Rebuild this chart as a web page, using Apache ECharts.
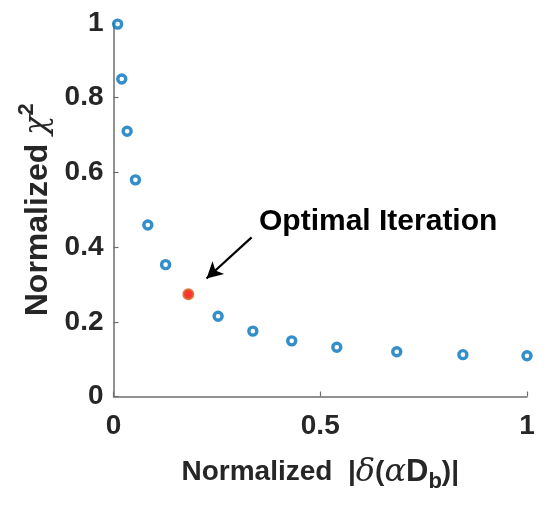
<!DOCTYPE html>
<html>
<head>
<meta charset="utf-8">
<script src="https://cdn.jsdelivr.net/npm/echarts@6/dist/echarts.min.js"></script>
<style>html,body{margin:0;padding:0;background:#fff}#c{width:551px;height:513px}</style>
</head>
<body>
<div id="c"></div>
<script>
// Data
const xVals = [0.010, 0.020, 0.033, 0.053, 0.083, 0.126, 0.253, 0.337, 0.431, 0.540, 0.685, 0.845, 1.000];
const yVals = [0.997, 0.850, 0.710, 0.580, 0.459, 0.353, 0.215, 0.175, 0.149, 0.132, 0.120, 0.112, 0.109];
const optX = [0.181];
const optY = [0.274];
const arrowFrom = [0.334, 0.426];
const arrowTo = [0.225, 0.316];
const annotationText = 'Optimal Iteration';
const xTicks = [0, 0.5, 1];
const yTicks = [0, 0.2, 0.4, 0.6, 0.8, 1];

const font = 'Liberation Sans, Arial, Helvetica, sans-serif';
const serif = 'DejaVu Serif, Liberation Serif, serif';
const chart = echarts.init(document.getElementById('c'), null, {renderer: 'canvas'});
const tickFmt = v => String(Math.round(v * 10) / 10);
chart.setOption({
  animation: false,
  backgroundColor: '#ffffff',
  grid: {left: 113.5, right: 24, top: 23, bottom: 116.5, containLabel: false},
  xAxis: {
    type: 'value', min: xTicks[0], max: xTicks[xTicks.length - 1], interval: 0.5,
    axisLine: {show: true, onZero: false, lineStyle: {color: '#6e6e6e', width: 1.5}},
    axisTick: {show: true, inside: true, length: 5, lineStyle: {color: '#6e6e6e', width: 1.2}},
    splitLine: {show: false},
    axisLabel: {color: '#262626', fontFamily: font, fontWeight: 'bold', fontSize: 28, margin: 16, formatter: tickFmt},
    name: '{b|Normalized  |}{i|δ}{b|(}{i|α}{d|D}{sub|b}{b|)|}',
    nameLocation: 'middle', nameGap: 56,
    nameTextStyle: {
      rich: {
        b: {fontFamily: font, fontWeight: 'bold', fontSize: 28, color: '#262626'},
        d: {fontFamily: font, fontWeight: 'bold', fontSize: 31, color: '#262626'},
        i: {fontFamily: serif, fontStyle: 'italic', fontSize: 32, color: '#262626'},
        sub: {fontFamily: font, fontWeight: 'bold', fontSize: 22, color: '#262626', padding: [18, 0, 0, 0]}
      }
    }
  },
  yAxis: {
    type: 'value', min: yTicks[0], max: yTicks[yTicks.length - 1], interval: 0.2,
    axisLine: {show: true, onZero: false, lineStyle: {color: '#6e6e6e', width: 1.5}},
    axisTick: {show: true, inside: true, length: 5, lineStyle: {color: '#6e6e6e', width: 1.2}},
    splitLine: {show: false},
    axisLabel: {color: '#262626', fontFamily: font, fontWeight: 'bold', fontSize: 28, margin: 10, formatter: tickFmt},
    name: '{b|Normalized }{i|χ}{sup|2}',
    nameLocation: 'middle', nameGap: 52, nameRotate: 90,
    nameTextStyle: {
      rich: {
        b: {fontFamily: font, fontWeight: 'bold', fontSize: 32, color: '#262626'},
        i: {fontFamily: serif, fontStyle: 'italic', fontSize: 32, color: '#262626'},
        sup: {fontFamily: font, fontWeight: 'bold', fontSize: 22, color: '#262626', padding: [0, 0, 22, 0]}
      }
    }
  },
  series: [
    {
      type: 'scatter', name: 'iterations',
      data: xVals.map((x, i) => [x, yVals[i]]),
      symbol: 'circle', symbolSize: 8,
      itemStyle: {color: '#ffffff', borderColor: '#0072BD', borderWidth: 3.4},
      z: 3
    },
    {
      type: 'scatter', name: 'optimal',
      data: optX.map((x, i) => [x, optY[i]]),
      symbol: 'circle', symbolSize: 9,
      itemStyle: {color: '#ff0000', borderColor: '#D95319', borderWidth: 3},
      z: 4,
      markLine: {
        silent: true, animation: false,
        symbol: ['none', 'arrow'], symbolSize: [13, 16],
        lineStyle: {color: '#000', width: 2.2, type: 'solid'},
        label: {show: false},
        data: [[{coord: arrowFrom}, {coord: arrowTo}]]
      }
    }
  ]
});
chart.setOption({
  graphic: [{
    type: 'text', left: 259, top: 207,
    style: {text: annotationText, fontFamily: font, fontWeight: 'bold', fontSize: 30, fill: '#000'}
  }]
});
</script>
</body>
</html>
